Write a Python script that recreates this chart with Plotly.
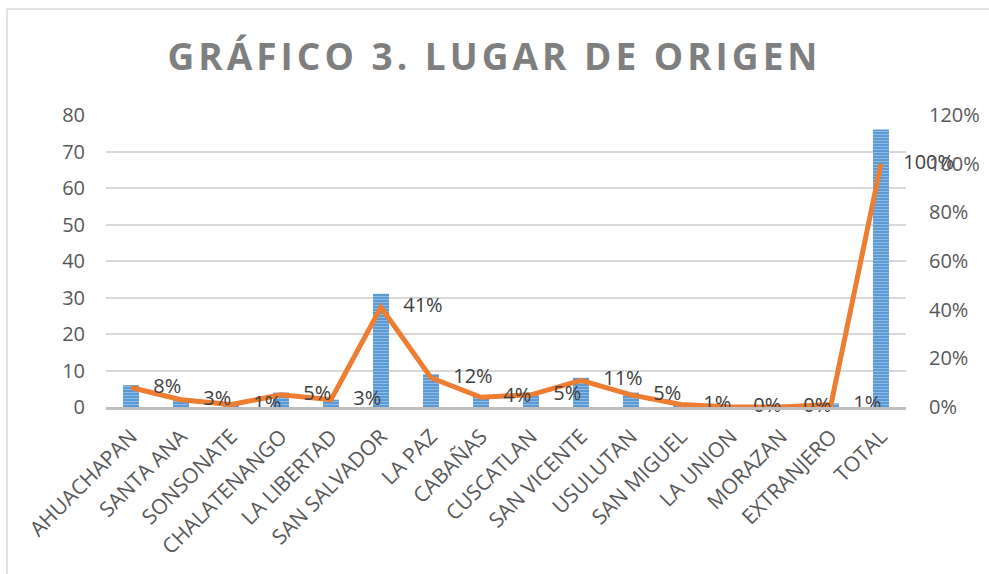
import plotly.graph_objects as go

categories = ["AHUACHAPAN", "SANTA ANA", "SONSONATE", "CHALATENANGO", "LA LIBERTAD",
              "SAN SALVADOR", "LA PAZ", "CABAÑAS", "CUSCATLAN", "SAN VICENTE",
              "USULUTAN", "SAN MIGUEL", "LA UNION", "MORAZAN", "EXTRANJERO", "TOTAL"]
counts = [6, 2, 1, 4, 2, 31, 9, 3, 4, 8, 4, 1, 0, 0, 1, 76]
percents = [0.08, 0.03, 0.01, 0.05, 0.03, 0.41, 0.12, 0.04, 0.05, 0.11, 0.05, 0.01, 0.0, 0.0, 0.01, 1.00]
left_ticks = [0, 10, 20, 30, 40, 50, 60, 70, 80]
right_ticks = [0, 0.2, 0.4, 0.6, 0.8, 1.0, 1.2]

FONT = "Open Sans"
W, H = 989, 574
L, R, T, B = 106, 83, 115, 167
pw, ph = W - L - R, H - T - B

fig = go.Figure()
fig.add_trace(go.Bar(
    x=categories, y=counts, width=0.32,
    marker=dict(color="#5b9bd5", line=dict(width=0),
                pattern=dict(shape="-", bgcolor="#5b9bd5", fgcolor="#c5dcf2",
                             size=3, solidity=0.35, fillmode="overlay")),
    showlegend=False, yaxis="y"))
fig.add_trace(go.Scatter(
    x=categories, y=percents, yaxis="y2", mode="lines+markers+text",
    line=dict(color="#ed7d31", width=5),
    marker=dict(size=34, color="rgba(0,0,0,0)"),
    text=[f"{round(p*100)}%" for p in percents], textposition="middle right",
    textfont=dict(family=FONT, size=20, color="#404040"),
    showlegend=False, cliponaxis=False))

def px2paper_x(px):
    return (px - L) / pw

def px2paper_y(py):
    return (H - B - py) / ph

fig.update_layout(
    width=W, height=H,
    margin=dict(l=L, r=R, t=T, b=B, autoexpand=False),
    paper_bgcolor="white", plot_bgcolor="white",
    title=dict(text='<span style="letter-spacing:4px">GRÁFICO 3. LUGAR DE ORIGEN</span>',
               x=0.5, xanchor="center", y=1 - 57 / H, yanchor="middle", yref="container",
               font=dict(family=FONT, size=37, color="#7f7f7f", weight="bold")),
    xaxis=dict(tickangle=-45, tickfont=dict(family=FONT, size=21, color="#595959"),
               showline=True, linecolor="#bfbfbf", linewidth=3, ticks="", showgrid=False,
               ticklabelstandoff=6, range=[-0.5, len(categories) - 0.5]),
    yaxis=dict(range=[0, 80], tickvals=left_ticks, showgrid=True, gridcolor="#d9d9d9",
               gridwidth=1.5, zeroline=False, ticks="", ticklabelstandoff=20,
               tickfont=dict(family=FONT, size=20, color="#595959")),
    yaxis2=dict(range=[0, 1.2], tickvals=right_ticks, tickformat=".0%", overlaying="y",
                side="right", showgrid=False, zeroline=False, ticks="", ticklabelstandoff=22,
                tickfont=dict(family=FONT, size=20, color="#595959")),
    shapes=[dict(type="rect", xref="paper", yref="paper",
                 x0=px2paper_x(7), x1=px2paper_x(1000), y0=px2paper_y(590), y1=px2paper_y(9),
                 line=dict(color="#d9d9d9", width=1.5), fillcolor="rgba(0,0,0,0)", layer="below")],
)

fig.write_html("out.html", config={"displayModeBar": False},
               post_script="document.body.style.margin='0';document.body.style.overflow='hidden';")
